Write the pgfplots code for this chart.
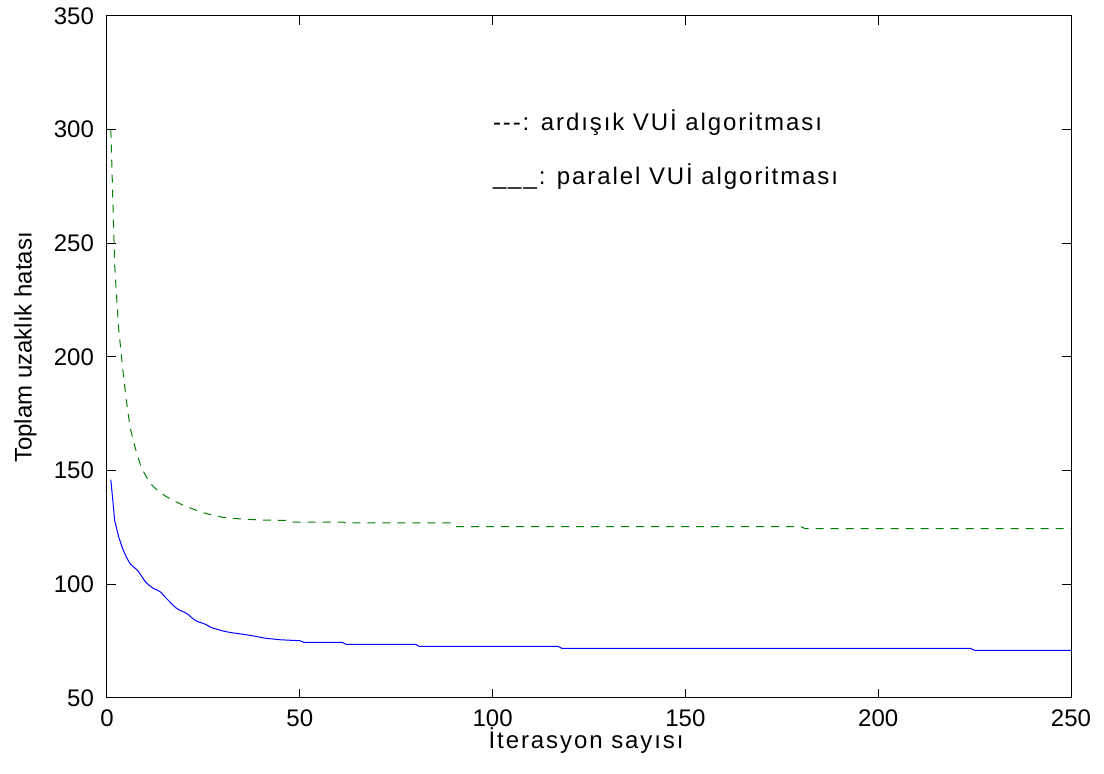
\documentclass[border=0pt]{standalone}
\usepackage{fontspec}
\setmainfont{Liberation Sans}
\newfontfamily\spaced[LetterSpace=8]{Liberation Sans}
\usepackage{pgfplots}
\pgfplotsset{compat=1.18}
\definecolor{mgreen}{rgb}{0,0.5,0}
\begin{document}
\begin{tikzpicture}
\begin{axis}[
  at={(0,0)}, anchor=south west,
  scale only axis, width=482pt, height=341pt,
  xmin=0, xmax=250, ymin=50, ymax=350,
  xtick={0,50,100,150,200,250},
  ytick={50,100,150,200,250,300,350},
  tick align=inside, tick pos=both,
  major tick length=4.5pt,
  axis line style={line width=0.5pt},
  every tick/.style={black, line width=0.5pt},
  /pgf/number format/assume math mode=true,
  tick label style={font=\fontsize{12}{14}\selectfont},
  yticklabel style={xshift=-3pt},
  xticklabel style={yshift=-2.5pt},
  label style={font=\fontsize{12}{14}\selectfont},
  xlabel={{\spaced İterasyon sayısı}},
  ylabel={Toplam uzaklık hatası},
  xlabel style={at={(axis description cs:0.497,-0.0735)}, anchor=base},
  ylabel style={at={(axis description cs:-0.0783,0.514)}, anchor=base},
]
\addplot[mgreen, line width=0.5pt, dash pattern=on 4pt off 3.5pt] coordinates {
(1,300) (2,240) (3,213) (4,196) (5,181) (6,169) (7,162) (8,156) (9,151) (10,148)
(11,145) (12,143) (13,141.5) (14,140.3) (15,139) (16,138) (17,137) (18,136.2)
(19,135.4) (20,134.6) (22,133.3) (24,132) (26,131) (28,130.2) (30,129.5)
(33,129) (36,128.6) (40,128.3) (47,128.1) (48,127.4) (61,127.4) (62,127.0)
(89,127.0) (90,125.4) (180,125.4) (181,124.5) (250,124.5)
};
\addplot[blue, line width=0.5pt] coordinates {
(1,146) (2,128) (3,121) (4,116) (5,112) (6,109) (7,107.5) (8,106) (9,103.5)
(10,101) (11,99.5) (12,98.2) (13,97.5) (14,96.5) (15,94.5) (16,92.8) (17,91)
(18,89.5) (19,88.5) (20,87.8) (21,86.8) (22,85.3) (23,84) (24,83.3) (25,82.8)
(26,82) (27,81) (28,80.5) (30,79.5) (32,78.8) (35,78.1) (38,77.3) (41,76.3)
(45,75.6) (50,75.2) (51,74.5) (61,74.5) (62,73.6) (80,73.6) (81,72.7)
(117,72.7) (118,71.8) (224,71.8) (225,70.9) (250,70.9)
};
\node[anchor=base west, inner sep=0pt, font=\fontsize{12}{14}\selectfont\spaced] at (axis cs:100,299.5) {---: ardışık VUİ algoritması};
\node[anchor=base west, inner sep=0pt, font=\fontsize{12}{14}\selectfont\spaced] at (axis cs:100,275.7) {\_\_\_: paralel VUİ algoritması};
\end{axis}
\pgfresetboundingbox
\path[use as bounding box] (-53.5pt,-38pt) rectangle (498.5pt,349pt);
\end{tikzpicture}
\end{document}
